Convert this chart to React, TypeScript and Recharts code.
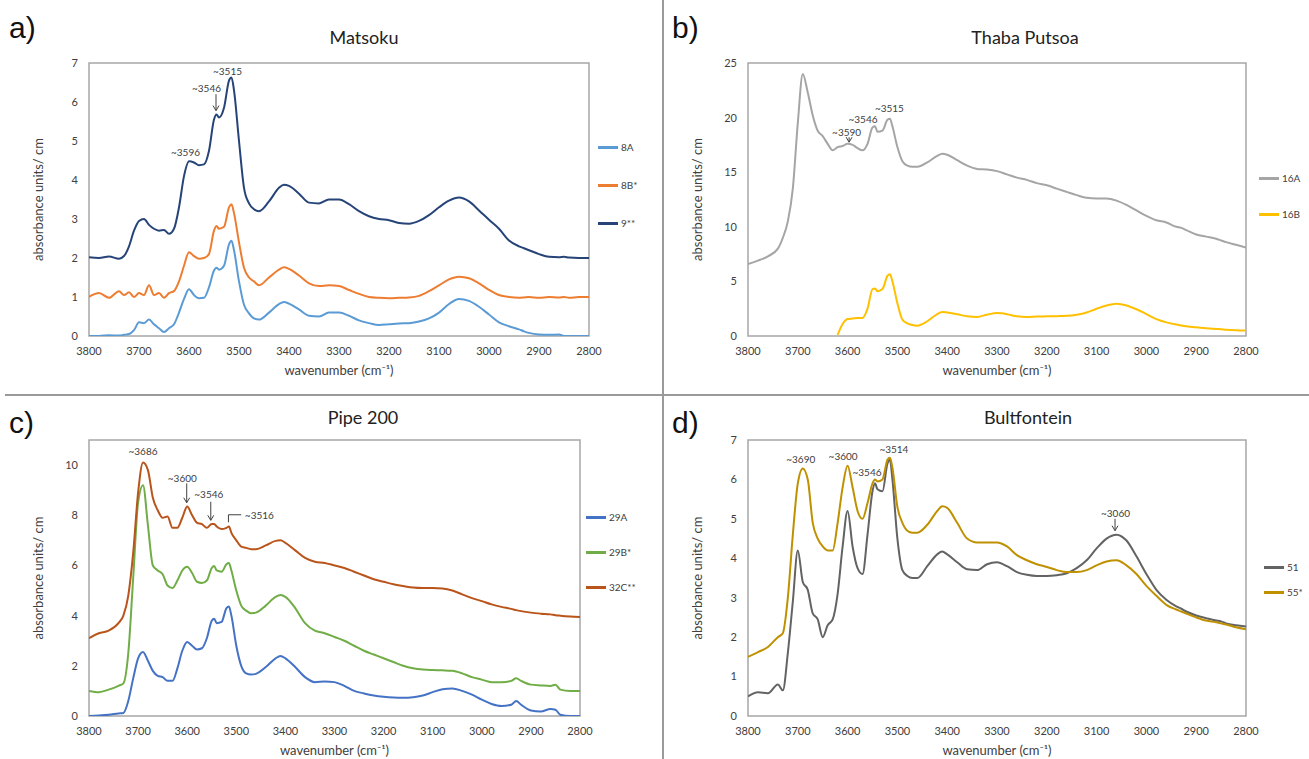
import React from 'react';
import { LineChart, Line, XAxis, YAxis, ReferenceArea, ReferenceDot, ReferenceLine } from 'recharts';

// wavenumber grid (cm-1) shared by every spectrum
const WN = [3800, 3780, 3760, 3740, 3730, 3720, 3710, 3700, 3690, 3680, 3670, 3660, 3650, 3640, 3630, 3620, 3610, 3600, 3590, 3580, 3570, 3560, 3550, 3545, 3540, 3530, 3520, 3515, 3510, 3500, 3490, 3480, 3470, 3460, 3440, 3420, 3410, 3400, 3380, 3360, 3340, 3320, 3300, 3280, 3260, 3240, 3220, 3200, 3180, 3160, 3140, 3120, 3100, 3080, 3060, 3040, 3020, 3000, 2980, 2960, 2940, 2930, 2920, 2900, 2880, 2860, 2850, 2840, 2820, 2800];
const X_TICKS = [3800, 3700, 3600, 3500, 3400, 3300, 3200, 3100, 3000, 2900, 2800];

// a) Matsoku
const M_8A = [0, 0, 0.02, 0.01, 0.03, 0.05, 0.15, 0.35, 0.33, 0.42, 0.3, 0.2, 0.1, 0.2, 0.3, 0.6, 0.95, 1.2, 1.05, 0.97, 0.98, 1.25, 1.68, 1.75, 1.7, 1.8, 2.35, 2.44, 2.2, 1.4, 0.8, 0.58, 0.45, 0.42, 0.6, 0.82, 0.87, 0.83, 0.68, 0.52, 0.5, 0.6, 0.6, 0.52, 0.4, 0.33, 0.28, 0.3, 0.32, 0.33, 0.37, 0.45, 0.6, 0.82, 0.95, 0.9, 0.75, 0.55, 0.35, 0.25, 0.17, 0.12, 0.08, 0.04, 0.03, 0.04, 0, 0, 0, 0];
const M_8B = [1, 1.1, 0.98, 1.15, 1.05, 1.12, 1, 1.1, 1.05, 1.3, 1.05, 1.1, 0.98, 1.1, 1.15, 1.4, 1.8, 2.15, 2.05, 1.98, 2, 2.1, 2.7, 2.82, 2.75, 2.8, 3.3, 3.38, 3.15, 2.4, 1.75, 1.5, 1.4, 1.3, 1.5, 1.7, 1.76, 1.72, 1.55, 1.35, 1.28, 1.3, 1.28, 1.18, 1.08, 1, 0.98, 0.97, 0.98, 0.99, 1.03, 1.15, 1.3, 1.45, 1.52, 1.48, 1.35, 1.18, 1.05, 1, 0.98, 0.99, 1, 0.98, 1, 0.99, 1, 0.98, 1, 1];
const M_9 = [2.02, 2, 2.04, 1.98, 2.05, 2.3, 2.7, 2.95, 3, 2.85, 2.75, 2.7, 2.72, 2.62, 2.75, 3.3, 4.1, 4.48, 4.45, 4.38, 4.4, 4.75, 5.55, 5.68, 5.6, 5.85, 6.55, 6.63, 6.3, 5, 3.8, 3.4, 3.25, 3.2, 3.45, 3.8, 3.88, 3.85, 3.65, 3.42, 3.4, 3.5, 3.5, 3.38, 3.2, 3.07, 3, 2.97, 2.9, 2.88, 2.95, 3.1, 3.3, 3.47, 3.55, 3.45, 3.22, 2.98, 2.75, 2.45, 2.3, 2.25, 2.2, 2.1, 2.03, 2.02, 2.03, 2.01, 2, 2];

// b) Thaba Putsoa
const T_16A = [6.6, 6.9, 7.3, 8, 9, 10.5, 13.5, 19.5, 24, 22.3, 20.2, 18.8, 18.3, 17.6, 17, 17.3, 17.4, 17.6, 17.5, 17.2, 17, 17.6, 19.1, 19.2, 18.7, 18.8, 19.8, 19.9, 19.2, 17.3, 16, 15.6, 15.5, 15.5, 15.9, 16.5, 16.7, 16.6, 16.1, 15.6, 15.3, 15.25, 15.1, 14.8, 14.5, 14.3, 14, 13.8, 13.5, 13.2, 12.9, 12.65, 12.6, 12.6, 12.4, 12, 11.5, 11, 10.6, 10.4, 10, 9.9, 9.7, 9.3, 9.1, 8.9, 8.75, 8.6, 8.35, 8.1];
const T_16B = [null, null, null, null, null, null, null, null, null, null, null, null, null, null, null, 0.1, 1.1, 1.55, 1.6, 1.65, 1.65, 2.5, 4.3, 4.35, 4.1, 4.3, 5.5, 5.65, 5, 3, 1.5, 1.15, 1, 0.95, 1.35, 2, 2.2, 2.15, 2, 1.8, 1.75, 1.95, 2.1, 2, 1.8, 1.75, 1.78, 1.8, 1.82, 1.85, 1.95, 2.15, 2.5, 2.8, 2.95, 2.8, 2.45, 2, 1.55, 1.25, 1.05, 0.97, 0.9, 0.8, 0.72, 0.65, 0.62, 0.58, 0.53, 0.5];

// c) Pipe 200
const P_29A = [0, 0.02, 0.05, 0.1, 0.12, 0.6, 1.5, 2.3, 2.55, 2.2, 1.8, 1.6, 1.55, 1.4, 1.4, 1.9, 2.6, 2.95, 2.8, 2.65, 2.7, 3.1, 3.8, 3.88, 3.7, 3.75, 4.3, 4.36, 4, 2.8, 2, 1.7, 1.65, 1.68, 1.95, 2.3, 2.39, 2.3, 1.95, 1.55, 1.35, 1.38, 1.35, 1.2, 1, 0.9, 0.82, 0.77, 0.74, 0.73, 0.75, 0.82, 0.95, 1.07, 1.1, 1, 0.85, 0.65, 0.48, 0.4, 0.45, 0.6, 0.45, 0.22, 0.18, 0.28, 0.25, 0.05, 0, 0];
const P_29B = [1, 0.95, 1.05, 1.2, 1.3, 2.5, 5.5, 8.5, 9.2, 7.6, 6, 5.8, 5.65, 5.2, 5.1, 5.4, 5.8, 5.95, 5.7, 5.35, 5.3, 5.4, 5.9, 5.98, 5.8, 5.75, 6.05, 6.1, 5.8, 5, 4.4, 4.2, 4.1, 4.12, 4.4, 4.75, 4.82, 4.75, 4.3, 3.7, 3.4, 3.3, 3.15, 3, 2.8, 2.6, 2.45, 2.3, 2.15, 2, 1.9, 1.85, 1.83, 1.82, 1.8, 1.7, 1.55, 1.45, 1.35, 1.35, 1.4, 1.5, 1.4, 1.25, 1.22, 1.2, 1.25, 1.05, 1, 1];
const P_32C = [3.1, 3.3, 3.4, 3.7, 4, 4.8, 6.5, 8.9, 10.1, 9.8, 8.7, 8.2, 7.9, 7.95, 7.5, 7.5, 7.9, 8.35, 8, 7.7, 7.65, 7.5, 7.65, 7.65, 7.55, 7.45, 7.5, 7.55, 7.3, 7, 6.75, 6.7, 6.65, 6.65, 6.8, 6.98, 7, 6.9, 6.6, 6.3, 6.15, 6.1, 6, 5.9, 5.75, 5.6, 5.45, 5.35, 5.25, 5.18, 5.12, 5.1, 5.1, 5.08, 5, 4.85, 4.7, 4.58, 4.45, 4.35, 4.27, 4.22, 4.18, 4.12, 4.08, 4.05, 4.02, 4, 3.97, 3.95];

// d) Bultfontein
const B_51 = [0.5, 0.6, 0.58, 0.8, 0.65, 1.6, 2.9, 4.2, 3.4, 3.2, 2.6, 2.45, 2, 2.3, 2.45, 3.1, 4.3, 5.2, 4.3, 3.75, 3.6, 4.6, 5.7, 5.9, 5.75, 5.7, 6.4, 6.5, 6, 4.5, 3.7, 3.55, 3.5, 3.5, 3.8, 4.1, 4.17, 4.1, 3.9, 3.72, 3.7, 3.85, 3.9, 3.8, 3.65, 3.58, 3.55, 3.55, 3.57, 3.62, 3.75, 3.95, 4.25, 4.5, 4.6, 4.45, 4.05, 3.6, 3.2, 2.95, 2.78, 2.72, 2.65, 2.55, 2.48, 2.42, 2.4, 2.35, 2.3, 2.27];
const B_55 = [1.5, 1.62, 1.75, 2, 2.1, 3, 4.6, 5.9, 6.28, 6, 4.9, 4.5, 4.3, 4.2, 4.2, 4.9, 5.8, 6.35, 5.8, 5.2, 5, 5.4, 5.9, 6, 5.95, 6, 6.5, 6.55, 6.3, 5.3, 4.9, 4.7, 4.65, 4.65, 4.85, 5.2, 5.32, 5.28, 4.9, 4.5, 4.4, 4.4, 4.4, 4.3, 4.08, 3.95, 3.85, 3.78, 3.7, 3.65, 3.65, 3.7, 3.82, 3.92, 3.95, 3.82, 3.6, 3.3, 3.05, 2.82, 2.7, 2.65, 2.6, 2.5, 2.42, 2.38, 2.35, 2.32, 2.25, 2.2];

// peak labels [wavenumber, absorbance, text]
const NOTES_A = [[3607, 4.72, '~3596'], [3565, 6.37, '~3546'], [3523, 6.8, '~3515']];
const NOTES_B = [[3602, 18.7, '~3590'], [3569, 19.9, '~3546'], [3516, 20.9, '~3515']];
const NOTES_C = [[3690, 10.57, '~3686'], [3610, 9.5, '~3600'], [3556, 8.85, '~3546'], [3453, 8.0, '~3516']];
const NOTES_D = [[3694, 6.53, '~3690'], [3609, 6.59, '~3600'], [3561, 6.2, '~3546'], [3507, 6.76, '~3514'], [3062, 5.14, '~3060']];
// arrows [wavenumber, from, to]
const ARROWS_A = [[3546, 6.2, 5.78]];
const ARROWS_B = [[3597, 18.2, 17.75]];
const ARROWS_C = [[3601, 9.27, 8.5], [3552, 8.54, 7.8]];
const ARROWS_D = [[3063, 5.0, 4.7]];

const font = 'Lato, "Open Sans", sans-serif';

const panels = [
  {
    letter: 'a)', title: 'Matsoku', left: 0, top: 0, width: 660, height: 380,
    margin: { top: 63, right: 71, bottom: 14, left: 49 }, titleX: 364, titleY: 37,
    yMax: 7, yTicks: [0, 1, 2, 3, 4, 5, 6, 7], notes: NOTES_A, arrows: ARROWS_A,
    legendX: 598, legendY: [147, 185, 223],
    series: [
      { name: '8A', color: '#5b9bd5', values: M_8A },
      { name: '8B*', color: '#ed7d31', values: M_8B },
      { name: '9**', color: '#264478', values: M_9 },
    ],
  },
  {
    letter: 'b)', title: 'Thaba Putsoa', left: 663, top: 0, width: 646, height: 380,
    margin: { top: 63, right: 63, bottom: 14, left: 45 }, titleX: 1025, titleY: 37,
    yMax: 25, yTicks: [0, 5, 10, 15, 20, 25], notes: NOTES_B, arrows: ARROWS_B,
    legendX: 1259, legendY: [178, 214],
    series: [
      { name: '16A', color: '#a5a5a5', values: T_16A },
      { name: '16B', color: '#ffc000', values: T_16B },
    ],
  },
  {
    letter: 'c)', title: 'Pipe 200', left: 0, top: 395, width: 660, height: 364,
    margin: { top: 45, right: 80, bottom: 13, left: 49 }, titleX: 363, titleY: 417,
    yMax: 11, yTicks: [0, 2, 4, 6, 8, 10], notes: NOTES_C, arrows: ARROWS_C,
    legendX: 586, legendY: [517, 552, 587],
    bracket: true,
    series: [
      { name: '29A', color: '#4472c4', values: P_29A },
      { name: '29B*', color: '#70ad47', values: P_29B },
      { name: '32C**', color: '#b9541a', values: P_32C },
    ],
  },
  {
    letter: 'd)', title: 'Bultfontein', left: 663, top: 395, width: 646, height: 364,
    margin: { top: 45, right: 63, bottom: 13, left: 45 }, titleX: 1028, titleY: 417,
    yMax: 7, yTicks: [0, 1, 2, 3, 4, 5, 6, 7], notes: NOTES_D, arrows: ARROWS_D,
    legendX: 1264, legendY: [567, 592],
    series: [
      { name: '51', color: '#636363', values: B_51 },
      { name: '55*', color: '#bf9000', values: B_55 },
    ],
  },
];

const noteShape = (text: string) => (p: any) => (
  <text x={p.cx} y={p.cy} textAnchor="middle" dominantBaseline="central" fontSize={10} fill="#404040" fontFamily={font}>{text}</text>
);

const arrowShape = (p: any) => (
  <g stroke="#404040" strokeWidth={1} fill="none">
    <line x1={p.x1} y1={p.y1} x2={p.x2} y2={p.y2} />
    <polyline points={`${p.x2 - 3},${p.y2 - 5} ${p.x2},${p.y2} ${p.x2 + 3},${p.y2 - 5}`} />
  </g>
);

const YTitle = (p: any) => {
  const vb = p.viewBox;
  const x = vb.x - 11;
  const y = vb.y + vb.height / 2;
  return (
    <text x={x} y={y} transform={`rotate(-90 ${x} ${y})`} textAnchor="middle" dominantBaseline="central" fontSize={13} fill="#404040" fontFamily={font}>
      absorbance units/ cm
    </text>
  );
};

const XTitle = (p: any) => {
  const vb = p.viewBox;
  return (
    <text x={vb.x + vb.width / 2} y={vb.y + 34} textAnchor="middle" dominantBaseline="central" fontSize={13} fill="#404040" fontFamily={font}>
      wavenumber (cm⁻¹)
    </text>
  );
};

function Panel({ cfg }: { cfg: any }) {
  const data = WN.map((wn, i) => {
    const row: any = { wn };
    cfg.series.forEach((s: any, k: number) => { row['s' + k] = s.values[i]; });
    return row;
  });
  const tick = { fontSize: 11, fill: '#404040', fontFamily: font };
  return (
    <div style={{ position: 'absolute', left: cfg.left, top: cfg.top }}>
      <LineChart width={cfg.width} height={cfg.height} data={data} margin={cfg.margin}>
        <XAxis dataKey="wn" type="number" domain={[2800, 3800]} reversed ticks={X_TICKS} interval={0}
          allowDataOverflow tickLine={false} axisLine={false} height={30} tickMargin={5} tick={tick} label={XTitle} />
        <YAxis type="number" domain={[0, cfg.yMax]} ticks={cfg.yTicks} interval={0} allowDataOverflow
          tickLine={false} axisLine={false} width={40} tickMargin={5} tick={tick} label={YTitle} />
        <ReferenceArea x1={3800} x2={2800} y1={0} y2={cfg.yMax} fill="none" stroke="#a6a6a6" strokeWidth={1.5} />
        {cfg.series.map((s: any, k: number) => (
          <Line key={s.name} dataKey={'s' + k} name={s.name} type="monotone" stroke={s.color} strokeWidth={2}
            dot={false} isAnimationActive={false} />
        ))}
        {cfg.arrows.map((a: any, i: number) => (
          <ReferenceLine key={'a' + i} segment={[{ x: a[0], y: a[1] }, { x: a[0], y: a[2] }]} shape={arrowShape} />
        ))}
        {cfg.bracket && (
          <ReferenceLine segment={[{ x: 3516, y: 7.72 }, { x: 3516, y: 8.02 }]} stroke="#404040" strokeWidth={1} />
        )}
        {cfg.bracket && (
          <ReferenceLine segment={[{ x: 3516, y: 8.02 }, { x: 3490, y: 8.02 }]} stroke="#404040" strokeWidth={1} />
        )}
        {cfg.notes.map((n: any, i: number) => (
          <ReferenceDot key={'n' + i} x={n[0]} y={n[1]} r={0} shape={noteShape(n[2])} />
        ))}
      </LineChart>
    </div>
  );
}

export default function App() {
  return (
    <div style={{ position: 'absolute', left: 0, top: 0, width: 1309, height: 759, background: '#fff', fontFamily: font, overflow: 'hidden' }}>
      {panels.map((cfg) => (
        <React.Fragment key={cfg.letter}>
          <Panel cfg={cfg} />
          <div style={{ position: 'absolute', left: cfg.left + 9, top: cfg.top + 12, fontSize: 30, fontFamily: '"Liberation Sans", Arial, sans-serif', color: '#111', lineHeight: '32px' }}>
            {cfg.letter}
          </div>
          <div style={{ position: 'absolute', left: cfg.titleX - 150, width: 300, top: cfg.titleY - 11, textAlign: 'center', fontSize: 18, color: '#222', lineHeight: '22px' }}>
            {cfg.title}
          </div>
          {cfg.series.map((s: any, k: number) => (
            <div key={s.name} style={{ position: 'absolute', left: cfg.legendX, top: cfg.legendY[k] - 7, height: 14, display: 'flex', alignItems: 'center' }}>
              <div style={{ width: 20, height: 3, background: s.color }} />
              <span style={{ marginLeft: 3, fontSize: 10, color: '#404040' }}>{s.name}</span>
            </div>
          ))}
        </React.Fragment>
      ))}
      <div style={{ position: 'absolute', left: 662, top: 0, width: 1.5, height: 759, background: '#9a9a9a' }} />
      <div style={{ position: 'absolute', left: 5, top: 394, width: 1304, height: 1.5, background: '#9a9a9a' }} />
    </div>
  );
}
